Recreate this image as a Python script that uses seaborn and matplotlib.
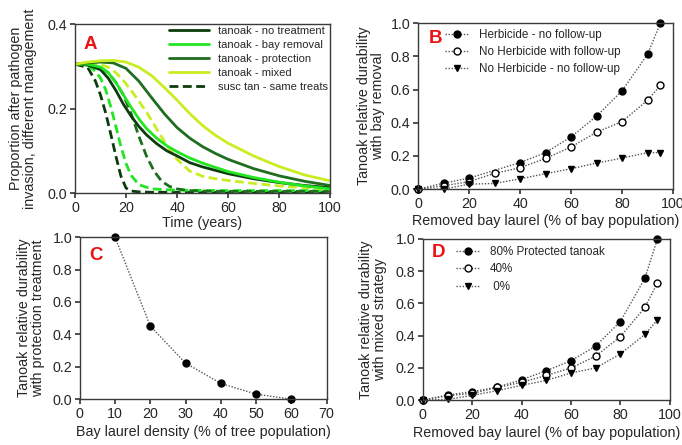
import matplotlib
matplotlib.use("Agg")
import matplotlib.pyplot as plt
from matplotlib.lines import Line2D
import seaborn as sns
import numpy as np

# ---------------- Panel A: tanoak proportion over time ----------------
time_nt = [0, 5, 10, 13, 16, 19, 22, 25, 28, 32, 36, 40, 45, 50, 60, 70, 80, 90, 100]
tan_no_treat = [0.305, 0.303, 0.292, 0.272, 0.243, 0.210, 0.182, 0.158, 0.138, 0.117, 0.100, 0.088, 0.072, 0.062, 0.046, 0.034, 0.025, 0.018, 0.013]
tan_bay_removal = [0.305, 0.305, 0.298, 0.285, 0.262, 0.232, 0.203, 0.176, 0.153, 0.130, 0.112, 0.098, 0.083, 0.071, 0.051, 0.037, 0.026, 0.017, 0.010]

time_pm = [0, 5, 10, 15, 20, 25, 30, 35, 40, 45, 50, 55, 60, 70, 80, 90, 100]
tan_protection = [0.305, 0.308, 0.310, 0.308, 0.295, 0.265, 0.226, 0.188, 0.155, 0.130, 0.110, 0.094, 0.080, 0.058, 0.041, 0.028, 0.018]
tan_mixed = [0.305, 0.310, 0.313, 0.314, 0.310, 0.298, 0.278, 0.250, 0.220, 0.188, 0.160, 0.137, 0.118, 0.088, 0.063, 0.043, 0.029]

time_s1 = [0, 5, 8, 10, 12, 14, 16, 18, 20, 22, 25, 30, 40, 60, 80, 100]
susc_no_treat = [0.305, 0.297, 0.265, 0.232, 0.190, 0.140, 0.088, 0.040, 0.012, 0.005, 0.003, 0.002, 0.002, 0.002, 0.002, 0.002]
susc_bay_removal = [0.305, 0.303, 0.288, 0.272, 0.245, 0.205, 0.158, 0.110, 0.070, 0.042, 0.020, 0.010, 0.007, 0.006, 0.006, 0.006]

time_s2 = [0, 5, 10, 13, 16, 19, 22, 25, 28, 31, 34, 37, 40, 45, 50, 55, 60, 70, 80, 90, 100]
susc_protection = [0.305, 0.304, 0.297, 0.285, 0.262, 0.232, 0.188, 0.135, 0.088, 0.052, 0.028, 0.016, 0.010, 0.006, 0.005, 0.004, 0.004, 0.004, 0.004, 0.004, 0.004]
susc_mixed = [0.305, 0.306, 0.304, 0.298, 0.285, 0.266, 0.243, 0.218, 0.192, 0.162, 0.132, 0.104, 0.080, 0.052, 0.040, 0.034, 0.030, 0.023, 0.017, 0.013, 0.010]

# ---------------- Panel B: bay removal ----------------
removed_b = [0, 10, 20, 30, 40, 50, 60, 70, 80, 90, 95]
removed_b_herb = [0, 10, 20, 40, 50, 60, 70, 80, 90, 95]
herbicide_no_followup = [0.0, 0.036, 0.066, 0.160, 0.220, 0.315, 0.440, 0.593, 0.813, 1.0]
noherb_with_followup = [0.0, 0.020, 0.045, 0.095, 0.129, 0.185, 0.254, 0.343, 0.407, 0.536, 0.625]
noherb_no_followup = [0.0, 0.0, 0.030, 0.034, 0.062, 0.093, 0.123, 0.157, 0.187, 0.220, 0.220]

# ---------------- Panel C: protection treatment ----------------
bay_density = [10, 20, 30, 40, 50, 60]
protection_durability = [1.0, 0.451, 0.222, 0.097, 0.031, 0.0]

# ---------------- Panel D: mixed strategy ----------------
removed_d = [0, 10, 20, 30, 40, 50, 60, 70, 80, 90, 95]
protected_80 = [0.0, 0.031, 0.052, 0.080, 0.126, 0.182, 0.244, 0.335, 0.487, 0.758, 1.0]
protected_40 = [0.0, 0.027, 0.041, 0.078, 0.110, 0.153, 0.199, 0.273, 0.393, 0.576, 0.727]
protected_0 = [0.0, 0.004, 0.029, 0.058, 0.091, 0.122, 0.168, 0.199, 0.286, 0.408, 0.497]

sns.set_theme(style="ticks")
plt.rcParams["font.family"] = ["Liberation Sans", "DejaVu Sans"]
text_col = "#262626"
plt.rcParams.update({
    "axes.edgecolor": "#3a3a3a",
    "axes.linewidth": 1.0,
    "xtick.color": "#3a3a3a",
    "ytick.color": "#3a3a3a",
    "xtick.labelcolor": text_col,
    "ytick.labelcolor": text_col,
    "xtick.labelsize": 10.3,
    "ytick.labelsize": 10.3,
    "xtick.major.size": 3.5,
    "ytick.major.size": 3.5,
    "axes.labelcolor": text_col,
    "axes.labelsize": 10.3,
})

fig = plt.figure(figsize=(6.82, 4.45), dpi=100)
axA = fig.add_axes([0.110, 0.566, 0.374, 0.380])
axB = fig.add_axes([0.613, 0.575, 0.374, 0.373])
axC = fig.add_axes([0.117, 0.103, 0.362, 0.364])
axD = fig.add_axes([0.620, 0.101, 0.362, 0.362])

c_nt = "#0c3c0c"
c_br = "#22e622"
c_pr = "#1f6e1f"
c_mx = "#c8ee22"
lw = 2.0

# Susceptible tanoak (dashed) first, tanoak (solid) on top
dash = (0, (3.2, 1.6))
for t, v, c in [(time_s1, susc_no_treat, c_nt), (time_s1, susc_bay_removal, c_br),
                (time_s2, susc_protection, c_pr), (time_s2, susc_mixed, c_mx)]:
    sns.lineplot(x=t, y=v, ax=axA, color=c, linewidth=lw, linestyle=dash)
for t, v, c in [(time_nt, tan_no_treat, c_nt), (time_nt, tan_bay_removal, c_br),
                (time_pm, tan_protection, c_pr), (time_pm, tan_mixed, c_mx)]:
    sns.lineplot(x=t, y=v, ax=axA, color=c, linewidth=lw)

axA.set_xlim(0, 100)
axA.set_ylim(0, 0.4)
axA.set_xticks([0, 20, 40, 60, 80, 100])
axA.set_yticks([0.0, 0.2, 0.4])
axA.set_xlabel("Time (years)", labelpad=1)
axA.set_ylabel("Proportion after pathogen\ninvasion, different management", labelpad=8, linespacing=1.0)
handles_a = [Line2D([], [], color=c_nt, lw=lw), Line2D([], [], color=c_br, lw=lw),
             Line2D([], [], color=c_pr, lw=lw), Line2D([], [], color=c_mx, lw=lw),
             Line2D([], [], color=c_nt, lw=lw, linestyle=dash)]
labels_a = ["tanoak - no treatment", "tanoak - bay removal", "tanoak - protection",
            "tanoak - mixed", "susc tan - same treats"]
axA.legend(handles_a, labels_a, loc="upper right", frameon=False, fontsize=8,
           handlelength=3.6, handletextpad=0.8, labelspacing=0.35,
           borderaxespad=0.1, borderpad=0.1, labelcolor=text_col)

dot_col = "#555555"
line_kw = dict(color=dot_col, linestyle=(0, (1, 1.2)), linewidth=1.0, markersize=5.0,
               clip_on=False, markeredgewidth=1.0, markeredgecolor="black")


def series(ax, x, y, marker, face, label):
    sns.lineplot(x=x, y=y, ax=ax, marker=marker, markerfacecolor=face, label=label, **line_kw)


series(axB, removed_b_herb, herbicide_no_followup, "o", "black", "Herbicide - no follow-up")
series(axB, removed_b, noherb_with_followup, "o", "white", "No Herbicide with follow-up")
series(axB, removed_b, noherb_no_followup, "v", "black", "No Herbicide - no follow-up")
axB.set_xlim(0, 100)
axB.set_ylim(0, 1.0)
axB.set_xticks([0, 20, 40, 60, 80, 100])
axB.set_yticks(np.arange(0, 1.01, 0.2))
axB.set_xlabel("Removed bay laurel (% of bay population)", labelpad=2)
axB.set_ylabel("Tanoak relative durability\nwith bay removal", labelpad=4, linespacing=1.0)

sns.lineplot(x=bay_density, y=protection_durability, ax=axC, marker="o",
             markerfacecolor="black", **line_kw)
axC.set_xlim(0, 70)
axC.set_ylim(0, 1.0)
axC.set_xticks(range(0, 71, 10))
axC.set_yticks(np.arange(0, 1.01, 0.2))
axC.set_xlabel("Bay laurel density (% of tree population)", labelpad=3)
axC.set_ylabel("Tanoak relative durability\nwith protection treatment", labelpad=5, linespacing=1.0)

series(axD, removed_d, protected_80, "o", "black", "80% Protected tanoak")
series(axD, removed_d, protected_40, "o", "white", "40%")
series(axD, removed_d, protected_0, "v", "black", " 0%")
axD.set_xlim(0, 100)
axD.set_ylim(0, 1.0)
axD.set_xticks([0, 20, 40, 60, 80, 100])
axD.set_yticks(np.arange(0, 1.01, 0.2))
axD.set_xlabel("Removed bay laurel (% of bay population)", labelpad=3)
axD.set_ylabel("Tanoak relative durability\nwith mixed strategy", labelpad=6, linespacing=1.0)

leg_kw = dict(loc="upper left", frameon=False, fontsize=8.4, handlelength=2.0,
              handletextpad=0.9, labelspacing=0.45, borderaxespad=0.0, borderpad=0.0,
              labelcolor=text_col)
axB.legend(bbox_to_anchor=(0.105, 0.965), **leg_kw)
axD.legend(bbox_to_anchor=(0.135, 0.955), **leg_kw)

for ax, letter, pos in [(axA, "A", (0.035, 0.88)), (axB, "B", (0.04, 0.91)),
                        (axC, "C", (0.04, 0.89)), (axD, "D", (0.035, 0.915))]:
    ax.text(pos[0], pos[1], letter, transform=ax.transAxes, color="#ee1111",
            fontsize=13.5, fontweight="bold", va="center", ha="left")
    ax.tick_params(direction="out", top=False, right=False, pad=2)
    for s in ax.spines.values():
        s.set_visible(True)

fig.savefig("out.png", dpi=100)
